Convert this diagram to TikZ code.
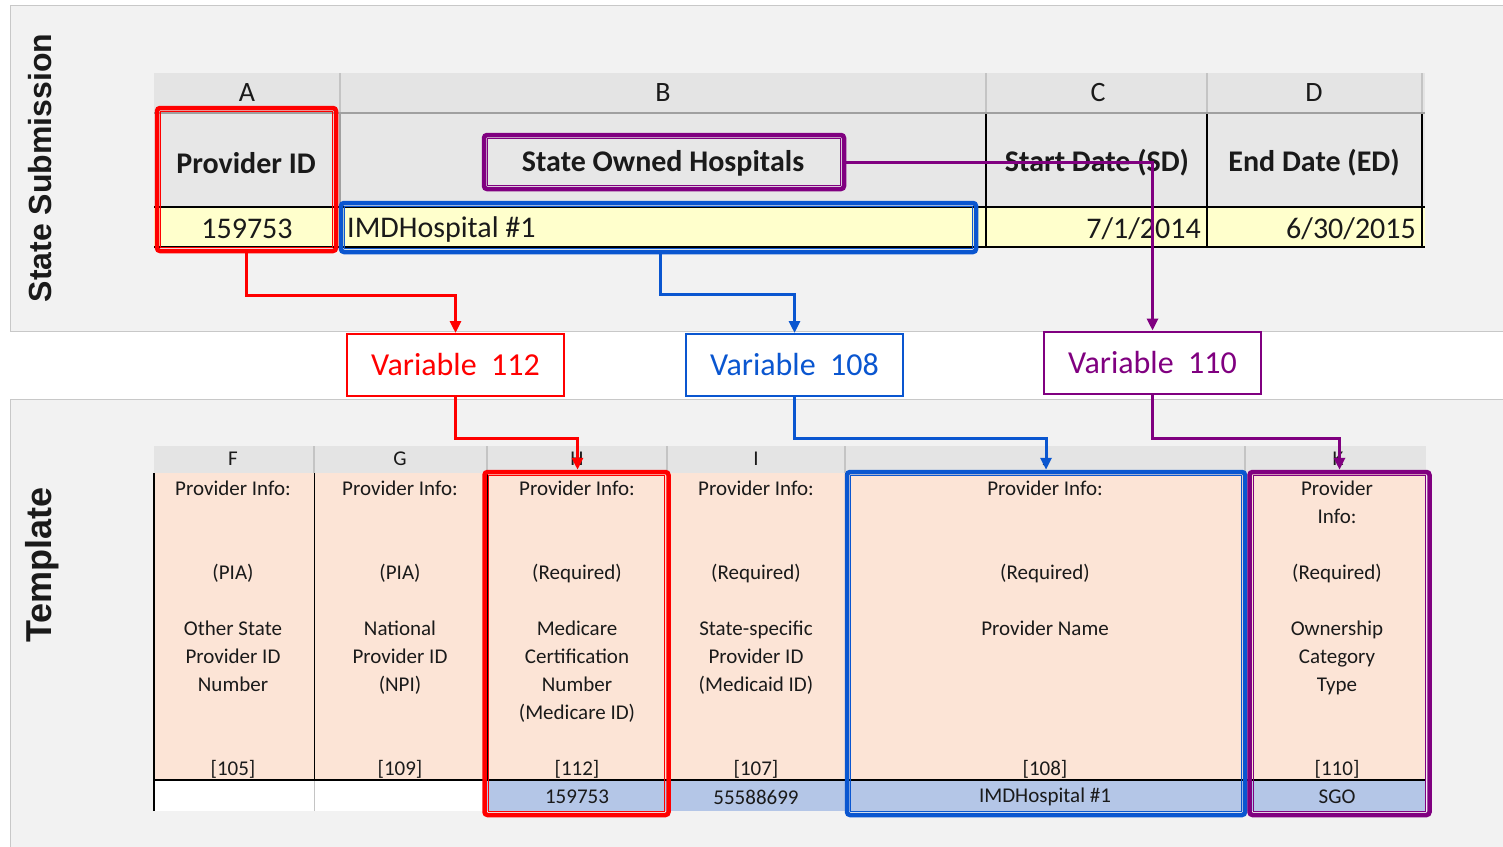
\documentclass[tikz,border=0pt]{standalone}
\usepackage{fontspec}
\setmainfont{Carlito}
\newfontfamily\sidefont{Liberation Sans}
\usetikzlibrary{arrows.meta}
\usetikzlibrary{positioning}

\definecolor{panelgray}{HTML}{F2F2F2}
\definecolor{panelline}{HTML}{C8C8C8}
\definecolor{headgray}{HTML}{E4E4E4}
\definecolor{gridlight}{HTML}{C4C4C4}
\definecolor{gridgray}{HTML}{A0A0A0}
\definecolor{cellyellow}{HTML}{FFFFCC}
\definecolor{cellpeach}{HTML}{FCE4D6}
\definecolor{cellblue}{HTML}{B4C6E7}
\definecolor{hlred}{HTML}{FF0000}
\definecolor{hlblue}{HTML}{0A56D0}
\definecolor{hlpurple}{HTML}{800080}
\definecolor{inktext}{HTML}{1A1A1A}

\tikzset{
  sidelabel/.style={rotate=90, text=inktext, font=\sidefont\bfseries\fontsize{32}{32}\selectfont},
  toplet/.style={text=inktext, font=\fontsize{28}{28}\selectfont},
  toptitle/.style={text=inktext, font=\bfseries\fontsize{30}{30}\selectfont},
  topdata/.style={text=inktext, font=\fontsize{30}{30}\selectfont},
  botlet/.style={text=inktext, font=\fontsize{21}{21}\selectfont},
  bottext/.style={anchor=north, align=center, inner sep=0pt, text=inktext, font=\fontsize{21}{28}\selectfont},
  botdata/.style={text=inktext, font=\fontsize{21}{21}\selectfont},
  hlbox/.style={draw=#1, line width=4.5pt, rounded corners=3pt, inner sep=0pt},
  hlinner/.style={draw=#1, line width=0.8pt},
  varbox/.style={draw=#1, text=#1, fill=white, line width=2pt, inner sep=0pt,
    minimum width=217pt, minimum height=62pt, font=\fontsize{32}{32}\selectfont},
  link/.style={draw=#1, line width=3pt, -{Triangle[length=12pt,width=11pt]}},
}

\begin{document}
\begin{tikzpicture}[x=1pt,y=-1pt]
\useasboundingbox (0,0) rectangle (1503,846);
\fill[white] (0,0) rectangle (1503,846);

% the two panels
\draw[panelline, fill=panelgray] (10,5) rectangle (1510,331);
\draw[panelline, fill=panelgray] (10,399) rectangle (1510,853);
\node[sidelabel] (side1) at (40,168) {State Submission};
\node[sidelabel, font=\sidefont\bfseries\fontsize{36}{36}\selectfont] (side2) at (42,565) {Template};

% state submission sheet
\fill[headgray] (154,73) rectangle (1425,113);
\fill[headgray!90!white] (154,113) rectangle (1425,207);
\fill[cellyellow] (154,207) rectangle (1425,247);
\foreach \x in {340,986,1207,1422}
  \draw[gridlight, line width=1.2pt] (\x,73) -- (\x,113);
\draw[gridgray, line width=1.2pt] (340,113) -- (340,247);
\foreach \x in {986,1207,1422}
  \draw[black, line width=1.3pt] (\x,113) -- (\x,247);
\draw[gridgray, line width=1.5pt] (154,113) -- (1425,113);
\draw[black, line width=1.8pt] (154,207) -- (1425,207);
\draw[black, line width=2pt] (154,247) -- (1425,247);

\node[toplet] (letA) at (247,93) {A};
\node[toplet] (letB) at (663,93) {B};
\node[toplet] (letC) at (1098,93) {C};
\node[toplet] (letD) at (1314,93) {D};
\node[toptitle] (ttlPid) at (246,163) {Provider ID};
\node[toptitle] (ttlOwn) at (663,163) {State Owned Hospitals};
\node[toptitle] (ttlSd) at (1097,163) {Start Date (SD)};
\node[toptitle] (ttlEd) at (1314,163) {End Date (ED)};
\node[topdata] (datPid) at (247,229) {159753};
\node[topdata, anchor=west, inner sep=0pt] (datName) at (347,229) {IMDHospital \#1};
\node[topdata, anchor=east, inner sep=0pt] (datSd) at (1201,229) {7/1/2014};
\node[topdata, anchor=east, inner sep=0pt] (datEd) at (1416,229) {6/30/2015};

% template sheet
\fill[headgray] (154,446) rectangle (1426,473);
\fill[cellpeach] (154,473) rectangle (1426,780);
\fill[white] (154,780) rectangle (487,811);
\fill[cellblue] (487,780) rectangle (1426,811);
\foreach \x in {314,487,667,845,1245}
  \draw[gridlight, line width=1.2pt] (\x,446) -- (\x,473);
\foreach \x in {314,487,667,845,1245}
  \draw[black, line width=1pt] (\x,473) -- (\x,780);
\draw[gridlight] (314,780) -- (314,811);
\draw[black, line width=1.3pt] (154,473) -- (154,811);
\draw[black, line width=2.5pt] (154,780) -- (1426,780);

\node[botlet] (letF) at (233,459) {F};
\node[botlet] (letG) at (400,459) {G};
\node[botlet] (letH) at (577,459) {H};
\node[botlet] (letI) at (756,459) {I};
\node[botlet] (letJ) at (1046,459) {J};
\node[botlet] (letK) at (1338,459) {K};

\node[bottext] (txtF) at (233,481) {Provider Info:\\[56pt](PIA)\\[28pt]Other State\\Provider ID\\Number\\[56pt]{[105]}};
\node[bottext] (txtG) at (400,481) {Provider Info:\\[56pt](PIA)\\[28pt]National\\Provider ID\\(NPI)\\[56pt]{[109]}};
\node[bottext] (txtH) at (577,481) {Provider Info:\\[56pt](Required)\\[28pt]Medicare\\Certification\\Number\\(Medicare ID)\\[28pt]{[112]}};
\node[bottext] (txtI) at (756,481) {Provider Info:\\[56pt](Required)\\[28pt]State-specific\\Provider ID\\(Medicaid ID)\\[56pt]{[107]}};
\node[bottext] (txtJ) at (1045,481) {Provider Info:\\[56pt](Required)\\[28pt]Provider Name\\[112pt]{[108]}};
\node[bottext] (txtK) at (1337,481) {Provider\\Info:\\[28pt](Required)\\[28pt]Ownership\\Category\\Type\\[56pt]{[110]}};

\node[botdata] (valH) at (577,797) {159753};
\node[botdata] (valI) at (756,797) {55588699};
\node[botdata] (valJ) at (1045,797) {IMDHospital \#1};
\node[botdata] (valK) at (1337,797) {SGO};

% highlight boxes
\node[hlbox=hlred, minimum width=179pt, minimum height=143pt] (hPid) at (246.5,179.5) {};
\node[hlbox=hlblue, minimum width=635pt, minimum height=49pt] (hName) at (658.5,227.5) {};
\node[hlbox=hlpurple, minimum width=360pt, minimum height=54pt] (hOwn) at (664,162) {};
\draw[hlinner=hlred] ([shift={(6,6)}]hPid.north west) rectangle ([shift={(-6,-6)}]hPid.south east);
\draw[hlinner=hlblue] ([shift={(6,6)}]hName.north west) rectangle ([shift={(-6,-6)}]hName.south east);
\draw[hlinner=hlpurple] ([shift={(6,6)}]hOwn.north west) rectangle ([shift={(-6,-6)}]hOwn.south east);

\node[hlbox=hlred, minimum width=184pt, minimum height=343pt] (hMed) at (576.5,643.5) {};
\node[hlbox=hlblue, minimum width=398pt, minimum height=343pt] (hProv) at (1046,643.5) {};
\node[hlbox=hlpurple, minimum width=180pt, minimum height=343pt] (hType) at (1339.5,643.5) {};
\draw[hlinner=hlred] ([shift={(6,6)}]hMed.north west) rectangle ([shift={(-6,-6)}]hMed.south east);
\draw[hlinner=hlblue] ([shift={(6,6)}]hProv.north west) rectangle ([shift={(-6,-6)}]hProv.south east);
\draw[hlinner=hlpurple] ([shift={(6,6)}]hType.north west) rectangle ([shift={(-6,-6)}]hType.south east);

% variable boxes
\node[varbox=hlred] (var112) at (455.5,365) {Variable\ \ 112};
\node[varbox=hlblue] (var108) at (794.5,365) {Variable\ \ 108};
\node[varbox=hlpurple] (var110) at (1152.5,362.5) {Variable\ \ 110};

% links
\draw[link=hlred] (hPid.south) -- ++(0,42) -| (var112.north);
\draw[link=hlblue] ([xshift=2pt]hName.south) -- ++(0,40) -| (var108.north);
\draw[link=hlpurple] (hOwn.east) -| (var110.north);
\draw[link=hlred] (var112.south) -- ++(0,41) -| ([xshift=1pt]hMed.north);
\draw[link=hlblue] (var108.south) -- ++(0,41) -| (hProv.north);
\draw[link=hlpurple] (var110.south) -- ++(0,44) -| (hType.north);
\end{tikzpicture}
\end{document}
